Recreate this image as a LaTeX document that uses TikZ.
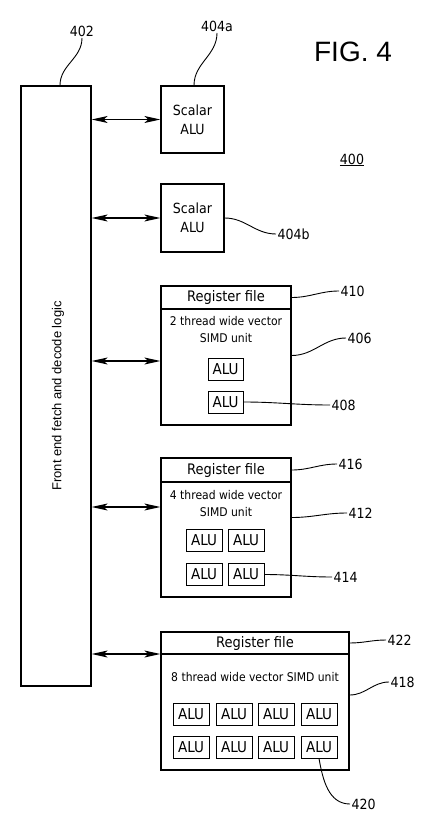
\documentclass[tikz,border=0pt]{standalone}
\usepackage{fontspec}
\setmainfont{DejaVu Sans Condensed}
\newfontfamily\arialfont{Liberation Sans}
\usetikzlibrary{arrows.meta,calc}
\tikzset{>={Stealth[length=16pt,width=7pt,inset=4pt]}}
\tikzset{
  unit/.style={draw,line width=1.3pt,inner sep=0pt,align=center,
    font=\fontsize{14}{19}\selectfont},
  header/.style={unit,anchor=north,font=\fontsize{14.5}{16}\selectfont},
  simdtext/.style={align=center,inner sep=0pt,font=\fontsize{12}{17}\selectfont},
  alu/.style={draw,line width=.8pt,minimum width=35pt,minimum height=22pt,
    inner sep=0pt,font=\fontsize{15}{16}\selectfont},
  num/.style={inner sep=1.5pt,font=\fontsize{14}{16}\selectfont},
  link/.style={<->,line width=1.2pt},
  leader/.style={line width=.9pt}
}
\newcommand*{\leadto}[2]
  {\draw[leader] (#1) to[out=0,in=180] (#2)}

\begin{document}
\begin{tikzpicture}[x=1pt,y=-1pt]
\useasboundingbox (0,0) rectangle (432,834);

% front end block
\node (fe) [unit,minimum width=70pt,minimum height=600pt] at (56,386) {};
\node (felabel) [rotate=90,font=\arialfont\fontsize{13}{15}\selectfont]
  at (58,396) {Front end fetch and decode logic};

% scalar units
\node (sa) [unit,minimum width=63pt,minimum height=67pt] at (192.5,119.5) {Scalar\\ALU};
\node (sb) [unit,minimum width=63pt,minimum height=68pt] at (192.5,218) {Scalar\\ALU};

% 2 wide
\node (v2) [unit,minimum width=130pt,minimum height=139pt] at (226,355.5) {};
\node (rf2) [header,minimum width=130pt,minimum height=23pt] at (v2.north) {Register file};
\node (t2) [simdtext] at (226,330) {2 thread wide vector\\SIMD unit};
\node (a2a) [alu] at (225.5,369) {ALU};
\node (a2b) [alu] at (225.5,402) {ALU};

% 4 wide
\node (v4) [unit,minimum width=130pt,minimum height=139pt] at (226,527.5) {};
\node (rf4) [header,minimum width=130pt,minimum height=24pt] at (v4.north) {Register file};
\node (t4) [simdtext] at (226,504) {4 thread wide vector\\SIMD unit};
\node (a4a) [alu,minimum width=36pt] at (204,540.5) {ALU};
\node (a4b) [alu,minimum width=36pt] at (246,540.5) {ALU};
\node (a4c) [alu,minimum width=36pt] at (204,574.5) {ALU};
\node (a4d) [alu,minimum width=36pt] at (246,574.5) {ALU};

% 8 wide
\node (v8) [unit,minimum width=188pt,minimum height=138pt] at (255,701) {};
\node (rf8) [header,minimum width=188pt,minimum height=22pt] at (v8.north) {Register file};
\node (t8) [simdtext] at (255,677) {8 thread wide vector SIMD unit};
\node (a8a) [alu,minimum width=36pt] at (191,714) {ALU};
\node (a8b) [alu,minimum width=36pt] at (234,714) {ALU};
\node (a8c) [alu,minimum width=36pt] at (276,714) {ALU};
\node (a8d) [alu,minimum width=36pt] at (319,714) {ALU};
\node (a8e) [alu,minimum width=36pt] at (191,747) {ALU};
\node (a8f) [alu,minimum width=36pt] at (234,747) {ALU};
\node (a8g) [alu,minimum width=36pt] at (276,747) {ALU};
\node (a8h) [alu,minimum width=36pt] at (319,747) {ALU};

% buses
\coordinate (pa) at (sa.west);
\coordinate (pb) at (sb.west);
\coordinate (p2) at ([yshift=-5.5pt]v2.west);
\coordinate (p4) at ([yshift=20.5pt]v4.west);
\coordinate (p8) at ([yshift=47pt]v8.west);
\draw[link] (fe.east |- pa) -- (pa);
\draw[link] (fe.east |- pb) -- (pb);
\draw[link] (fe.east |- p2) -- (p2);
\draw[link] (fe.east |- p4) -- (p4);
\draw[link] (fe.east |- p8) -- (p8);

% reference numerals
\node (fig) [font=\arialfont\fontsize{28}{30}\selectfont] at (353,52) {FIG. 4};
\node (n400) [num] at (352,160) {\underline{400}};
\node (n402) [num] at (82,31) {402};
\node (n404a) [num] at (217,26) {404a};
\node (n404b) [num,anchor=west] at (276,234) {404b};
\node (n410) [num,anchor=west] at (339,291) {410};
\node (n406) [num,anchor=west] at (346,338) {406};
\node (n408) [num,anchor=west] at (330,405) {408};
\node (n416) [num,anchor=west] at (337,464) {416};
\node (n412) [num,anchor=west] at (347,513) {412};
\node (n414) [num,anchor=west] at (332,577) {414};
\node (n422) [num,anchor=west] at (386,640) {422};
\node (n418) [num,anchor=west] at (389,682) {418};
\node (n420) [num,anchor=west] at (350,804) {420};

\draw[leader] ([xshift=4pt]fe.north) to[out=90,in=-90] (n402.south);
\draw[leader] ([xshift=1.5pt]sa.north) to[out=90,in=-90] (n404a.south);
\leadto{sb.east}{n404b.west};
\leadto{rf2.east}{n410.west};
\leadto{v2.east}{n406.west};
\leadto{a2b.east}{n408.west};
\leadto{rf4.east}{n416.west};
\leadto{[yshift=10pt]v4.east}{n412.west};
\leadto{a4d.east}{n414.west};
\leadto{rf8.east}{n422.west};
\leadto{[yshift=6pt]v8.east}{n418.west};
\draw[leader] (a8h.south) to[out=-80,in=180] (n420.west);
\end{tikzpicture}
\end{document}
